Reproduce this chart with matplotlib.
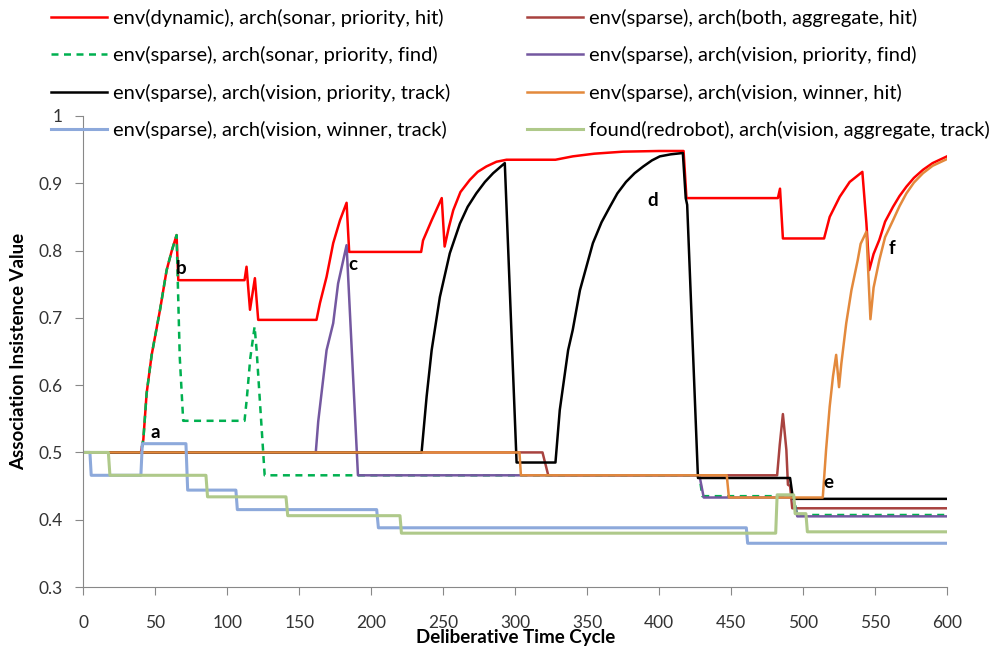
import matplotlib
matplotlib.use('Agg')
import matplotlib.pyplot as plt
import numpy as np

plt.rcParams['font.family'] = ['Lato', 'DejaVu Sans']

# series points (x = deliberative time cycle, y = association insistence value)
red_pts = [(0, 0.5), (40, 0.5), (41.7, 0.519), (44, 0.588), (47.5, 0.645), (53.3, 0.712), (57.9, 0.771),
           (61.5, 0.80), (64.8, 0.823), (66, 0.756), (112, 0.756), (113.4, 0.776), (115.8, 0.712),
           (119.2, 0.759), (121.5, 0.697), (162, 0.697), (164.4, 0.722), (169, 0.761), (173.6, 0.811),
           (178.3, 0.845), (182.9, 0.871), (184.7, 0.798), (234.7, 0.798), (236, 0.815), (242, 0.845),
           (249, 0.878), (251, 0.806), (254, 0.835), (257, 0.86), (262, 0.887), (268.5, 0.905),
           (274, 0.917), (280, 0.925), (287, 0.932), (294, 0.935), (328, 0.935), (340, 0.940),
           (355, 0.944), (375, 0.947), (400, 0.948), (417, 0.948), (419, 0.878), (482.5, 0.878),
           (484, 0.892), (486, 0.818), (514.6, 0.818), (518.5, 0.85), (525.5, 0.88), (532.4, 0.902),
           (541.2, 0.917), (544, 0.841), (546, 0.771), (549, 0.795), (553, 0.816), (557, 0.843),
           (562.5, 0.865), (567, 0.881), (571.8, 0.895), (577, 0.908), (583.3, 0.92), (590, 0.93),
           (600, 0.94)]
brown_pts = [(0, 0.5), (319, 0.5), (323, 0.466), (482, 0.466), (483.8, 0.511), (486, 0.557),
             (488.4, 0.504), (489.5, 0.452), (491, 0.45), (492.5, 0.417), (600, 0.417)]
green_pts = [(0, 0.5), (40, 0.5), (41.7, 0.519), (44, 0.588), (47.5, 0.645), (53.3, 0.712),
             (57.9, 0.771), (61.5, 0.80), (64.8, 0.823), (67, 0.642), (69.4, 0.547), (112, 0.547),
             (113.5, 0.578), (116, 0.64), (119, 0.687), (120.4, 0.652), (125, 0.499), (126, 0.466),
             (428, 0.466), (430, 0.435), (493, 0.435), (496, 0.407), (600, 0.407)]
purple_pts = [(0, 0.5), (161.5, 0.5), (163.2, 0.546), (165.5, 0.588), (169, 0.652), (173.6, 0.692),
              (177, 0.751), (182.9, 0.808), (190.8, 0.466), (428, 0.466), (431, 0.433), (493, 0.433),
              (496, 0.405), (600, 0.405)]
black_pts = [(0, 0.5), (235, 0.5), (238.5, 0.583), (242, 0.652), (247.7, 0.731), (254.6, 0.796),
             (261.6, 0.84), (267, 0.865), (273, 0.885), (279, 0.902), (284.7, 0.915), (292.8, 0.930),
             (301, 0.485), (328, 0.485), (331, 0.563), (336.8, 0.652), (340, 0.682), (345, 0.741),
             (354, 0.811), (360, 0.842), (365.8, 0.865), (371, 0.885), (377, 0.902), (383, 0.915),
             (389, 0.925), (395, 0.934), (400.5, 0.94), (408, 0.943), (416.5, 0.945), (418.5, 0.878),
             (419.5, 0.868), (427, 0.462), (491, 0.462), (493, 0.431), (600, 0.431)]
orange_pts = [(0, 0.5), (303, 0.5), (304, 0.466), (447, 0.466), (448.5, 0.433), (513.7, 0.433),
              (516, 0.504), (518.5, 0.568), (520.8, 0.613), (523, 0.645), (525, 0.597), (526.6, 0.632),
              (530, 0.692), (533.6, 0.741), (538, 0.786), (540, 0.81), (544, 0.828), (546.8, 0.698),
              (549, 0.745), (553, 0.786), (557, 0.82), (562.5, 0.845), (567, 0.866), (571.8, 0.885),
              (577, 0.901), (583.3, 0.915), (590, 0.926), (600, 0.936)]
blue_pts = [(0, 0.5), (4.6, 0.5), (5.5, 0.466), (40, 0.466), (41, 0.513), (71.3, 0.513), (72.5, 0.444),
            (106, 0.444), (107, 0.415), (203.8, 0.415), (205, 0.388), (460.6, 0.388), (461.5, 0.365),
            (600, 0.365)]
lgreen_pts = [(0, 0.5), (17.4, 0.5), (18.5, 0.466), (85.2, 0.466), (86.3, 0.434), (140.8, 0.434),
              (142, 0.406), (220, 0.406), (221, 0.38), (481, 0.38), (482, 0.437), (493.5, 0.437),
              (494.5, 0.409), (502, 0.409), (503, 0.382), (600, 0.382)]

labels = ['env(dynamic), arch(sonar, priority, hit)',
          'env(sparse), arch(both, aggregate, hit)',
          'env(sparse), arch(sonar, priority, find)',
          'env(sparse), arch(vision, priority, find)',
          'env(sparse), arch(vision, priority, track)',
          'env(sparse), arch(vision, winner, hit)',
          'env(sparse), arch(vision, winner, track)',
          'found(redrobot), arch(vision, aggregate, track)']

# marker letters
notes = ['a', 'b', 'c', 'd', 'e', 'f']
note_x = [49.8, 68.3, 187, 395.8, 517.4, 561.8]
note_y = [0.530, 0.774, 0.780, 0.875, 0.455, 0.803]

series = [red_pts, brown_pts, green_pts, purple_pts, black_pts, orange_pts, blue_pts, lgreen_pts]
colors = ['#FF0000', '#A8423F', '#00B050', '#7458A0', '#000000', '#E3893C', '#8DA9DB', '#AFC98A']
widths = [1.8, 1.8, 1.8, 1.8, 1.8, 1.8, 2.2, 2.2]

fig = plt.figure(figsize=(9.92, 6.48), dpi=100)
ax = fig.add_axes([83.3/992, 1-587/648, (947-83.3)/992, (587-116)/648])

lines = []
for pts, c, w in zip(series, colors, widths):
    arr = np.array(pts)
    ls = '-'
    if c == '#00B050':
        ls = (0, (2.8, 2.2))
    ln, = ax.plot(arr[:, 0], arr[:, 1], color=c, lw=w, ls=ls)
    lines.append(ln)

for t, x, y in zip(notes, note_x, note_y):
    ax.text(x, y, t, fontsize=13.5, fontweight='bold', ha='center', va='center')

ax.set_xlim(0, 600)
ax.set_ylim(0.3, 1)
ax.set_xticks(np.arange(0, 601, 50))
ax.set_yticks(np.arange(0.3, 1.001, 0.1))
ax.yaxis.set_major_formatter(plt.FuncFormatter(lambda v, _: f'{v:g}'))
for s in ['top', 'right']:
    ax.spines[s].set_visible(False)
for s in ['left', 'bottom']:
    ax.spines[s].set_color('#888888')
ax.tick_params(axis='both', colors='#888888', labelcolor='#333333', labelsize=12.5, length=6)
ax.tick_params(axis='x', pad=14)
ax.tick_params(axis='y', pad=9)

ax.set_ylabel('Association Insistence Value', fontsize=13.5, fontweight='bold')
ax.yaxis.set_label_coords(-0.065, 0.5)
ax.set_xlabel('Deliberative Time Cycle', fontsize=13.5, fontweight='bold')
ax.xaxis.set_label_coords(0.5, -0.089)

leg_kw = dict(frameon=False, borderpad=0, handlelength=2.8, handletextpad=0.3,
              labelspacing=0.96, fontsize=14.5, borderaxespad=0)
h1 = [lines[0], lines[2], lines[4], lines[6]]
h2 = [lines[1], lines[3], lines[5], lines[7]]
fig.legend(h1, [labels[0], labels[2], labels[4], labels[6]], loc='upper left',
           bbox_to_anchor=(51/992, 1-9/648), **leg_kw)
fig.legend(h2, [labels[1], labels[3], labels[5], labels[7]], loc='upper left',
           bbox_to_anchor=(527/992, 1-9/648), **leg_kw)

fig.savefig('out.png', dpi=100)
